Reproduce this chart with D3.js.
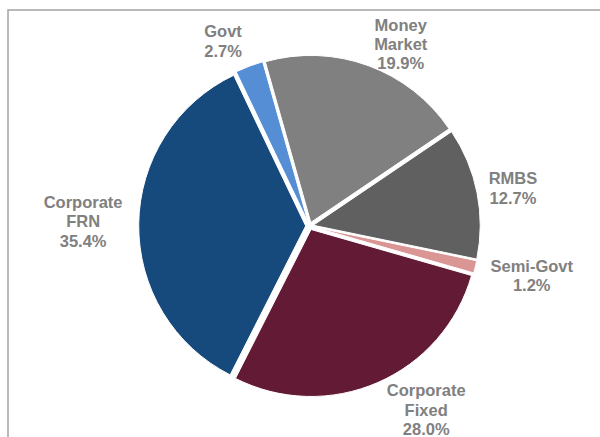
<!DOCTYPE html>
<html>
<head>
<meta charset="utf-8">
<script src="https://cdn.jsdelivr.net/npm/d3@7"></script>
<style>
  html, body { margin: 0; padding: 0; background: #fff; }
  svg { display: block; }
</style>
</head>
<body>
<svg id="chart" width="600" height="437"></svg>
<script>
// Portfolio allocation by sector (percent of holdings)
const categories = ["Money Market", "RMBS", "Semi-Govt", "Corporate Fixed", "Corporate FRN", "Govt"];
const labelLines = [["Money", "Market"], ["RMBS"], ["Semi-Govt"], ["Corporate", "Fixed"], ["Corporate", "FRN"], ["Govt"]];
const shares = [19.9, 12.7, 1.2, 28.0, 35.4, 2.7];
const colors = ["#808080", "#606060", "#d99694", "#631a35", "#174a7c", "#558ed5"];
// fine adjustments of each data label away from its default outside spot
const labelNudge = [[22, 10], [8, 0], [12, 3], [31, -3], [-12, -2], [-18, -3]];

const width = 600, height = 437;
const cx = 309.5, cy = 226, radius = 167, explode = 3.8;
const startDeg = -15.8;

const svg = d3.select("#chart");

// chart area frame
svg.append("rect")
  .attr("x", 8).attr("y", 10)
  .attr("width", width + 20).attr("height", height + 20)
  .attr("fill", "none")
  .attr("stroke", "#a3a3a3")
  .attr("stroke-width", 1.5);

const data = categories.map((c, i) => ({ name: c, value: shares[i], lines: labelLines[i], color: colors[i], nudge: labelNudge[i] }));

const start = startDeg * Math.PI / 180;
const pie = d3.pie().value(d => d.value).sort(null)
  .startAngle(start).endAngle(start + 2 * Math.PI);
const arcs = pie(data);

const arc = d3.arc().innerRadius(0).outerRadius(radius);

const g = svg.append("g").attr("transform", `translate(${cx},${cy})`);

g.selectAll("path.slice")
  .data(arcs)
  .join("path")
  .attr("class", "slice")
  .attr("d", arc)
  .attr("fill", d => d.data.color)
  .attr("stroke", "#fff")
  .attr("stroke-width", 1)
  .attr("transform", d => {
    const a = (d.startAngle + d.endAngle) / 2;
    return `translate(${Math.sin(a) * explode},${-Math.cos(a) * explode})`;
  });

// data labels: name lines followed by the percentage
const fontSize = 16.5, lineH = 19.3, pad = 8;
const labels = g.selectAll("g.label")
  .data(arcs)
  .join("g")
  .attr("class", "label");

labels.each(function (d) {
  const sel = d3.select(this);
  const lines = d.data.lines.concat([d.data.value.toFixed(1) + "%"]);
  const text = sel.append("text")
    .attr("text-anchor", "middle")
    .attr("font-family", "'Liberation Sans', Arial, sans-serif")
    .attr("font-weight", "bold")
    .attr("font-size", fontSize)
    .attr("fill", "#808080");
  lines.forEach((ln, i) => {
    text.append("tspan")
      .attr("x", 0)
      .attr("y", (i - (lines.length - 1) / 2) * lineH)
      .attr("dy", "0.35em")
      .text(ln);
  });
  const bb = text.node().getBBox();
  const a = (d.startAngle + d.endAngle) / 2;
  const ux = Math.sin(a), uy = -Math.cos(a);
  const px = ux * (radius + pad) + ux * bb.width / 2 + d.data.nudge[0];
  const py = uy * (radius + pad) + uy * (lines.length * lineH) / 2 + d.data.nudge[1];
  sel.attr("transform", `translate(${px},${py})`);
});
</script>
</body>
</html>
